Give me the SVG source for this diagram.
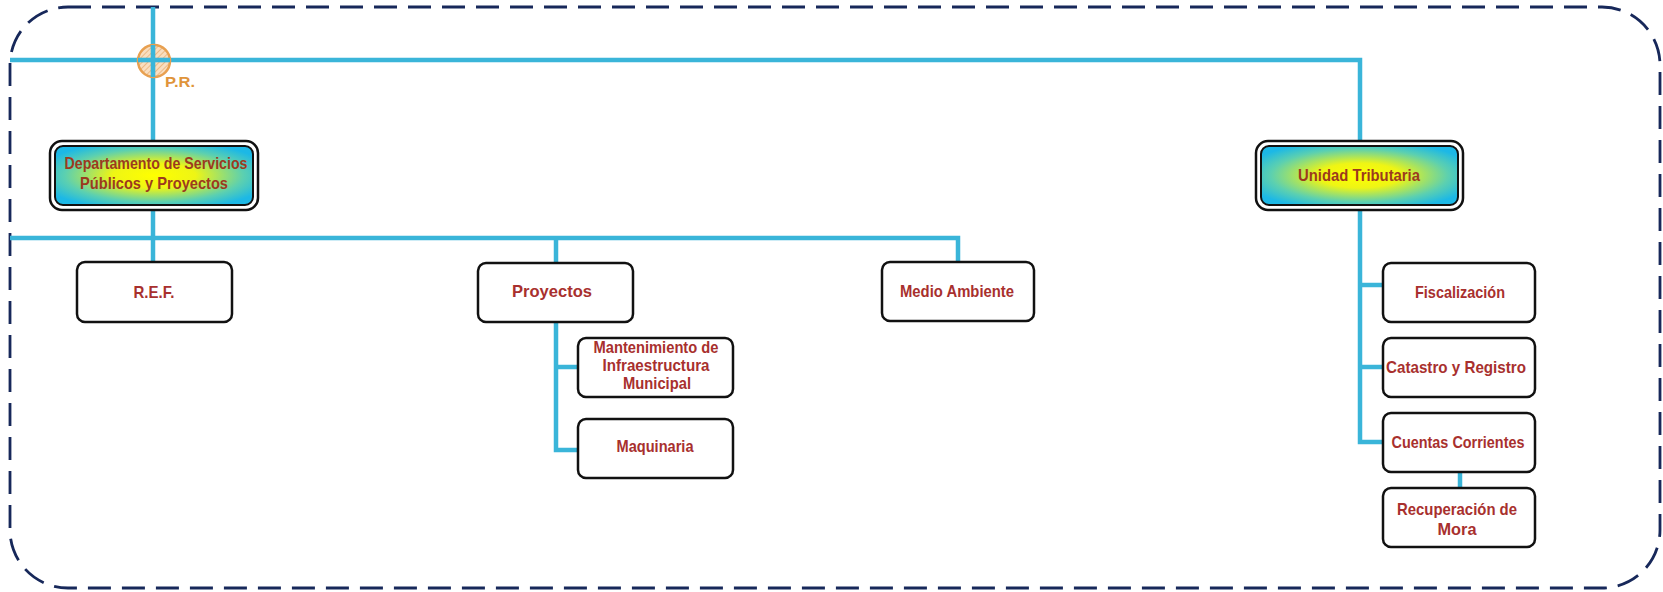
<svg xmlns="http://www.w3.org/2000/svg" width="1663" height="592" viewBox="0 0 1663 592">
<defs>
<radialGradient id="grad" cx="0.5" cy="0.5" r="0.6">
<stop offset="0" stop-color="#ffff00"/>
<stop offset="0.35" stop-color="#eef515"/>
<stop offset="0.75" stop-color="#5cd0b0"/>
<stop offset="1" stop-color="#1cb8e6"/>
</radialGradient>
<pattern id="hatch" width="4" height="4" patternUnits="userSpaceOnUse" patternTransform="rotate(45)">
<rect width="4" height="4" fill="#f7d6b0"/>
<line x1="0" y1="0" x2="0" y2="4" stroke="#e39a4e" stroke-width="1.5"/>
</pattern>
</defs>
<style>
.conn{fill:none;stroke:#3ab5d9;stroke-width:4.5;stroke-linecap:butt}
.box{fill:#fff;stroke:#111;stroke-width:2.5}
.outer{fill:#fff;stroke:#111;stroke-width:2.5}
.inner{fill:url(#grad);stroke:#111;stroke-width:2}
.t{font-family:"Liberation Sans Narrow","Liberation Sans",Arial,sans-serif;font-weight:bold;font-size:17px;fill:#a8302e;text-anchor:middle}
.tg{fill:#9c3a1e}
.border{fill:none;stroke:#17285a;stroke-width:2.8;stroke-dasharray:23 11}
</style>
<rect class="border" x="10" y="7" width="1650" height="581" rx="58" ry="58"/>
<g id="connectors">
<path class="conn" d="M153 7 V142"/>
<path class="conn" d="M10 60 H1360 V141"/>
<path class="conn" d="M153 210 V262"/>
<path class="conn" d="M10 238 H958 V262"/>
<path class="conn" d="M556 238 V263"/>
<path class="conn" d="M556 322 V450 H578"/>
<path class="conn" d="M556 367 H578"/>
<path class="conn" d="M1360 210 V442 H1383"/>
<path class="conn" d="M1360 285 H1383"/>
<path class="conn" d="M1360 367 H1383"/>
<path class="conn" d="M1460 472 V488"/>
</g>
<g id="pr">
<circle cx="154" cy="61" r="16" fill="url(#hatch)" fill-opacity="0.8" stroke="#e8a050" stroke-width="2.5"/>
<path class="conn" d="M138 60 H170 M153 45 V77" stroke-width="4"/>
<text x="165" y="87" textLength="30" lengthAdjust="spacingAndGlyphs" style="font-family:'Liberation Sans Narrow','Liberation Sans',Arial,sans-serif;font-weight:bold;font-size:14px;fill:#e0943a">P.R.</text>
</g>
<g id="dept">
<rect class="outer" x="50" y="141" width="208" height="69" rx="12"/>
<rect class="inner" x="55" y="146" width="198" height="59" rx="8"/>
<text class="t tg" x="156" y="169" textLength="183" lengthAdjust="spacingAndGlyphs">Departamento de Servicios</text>
<text class="t tg" x="154" y="189" textLength="148" lengthAdjust="spacingAndGlyphs">Públicos y Proyectos</text>
</g>
<g id="unidad">
<rect class="outer" x="1256" y="141" width="207" height="69" rx="12"/>
<rect class="inner" x="1261" y="146" width="197" height="59" rx="8"/>
<text class="t tg" x="1359" y="181" textLength="122" lengthAdjust="spacingAndGlyphs">Unidad Tributaria</text>
</g>
<g id="ref">
<rect class="box" x="77" y="262" width="155" height="60" rx="8"/>
<text class="t" x="154" y="298" textLength="41" lengthAdjust="spacingAndGlyphs">R.E.F.</text>
</g>
<g id="proyectos">
<rect class="box" x="478" y="263" width="155" height="59" rx="8"/>
<text class="t" x="552" y="297" textLength="80" lengthAdjust="spacingAndGlyphs">Proyectos</text>
</g>
<g id="mantenimiento">
<rect class="box" x="578" y="338" width="155" height="59" rx="8"/>
<text class="t" x="656" y="353" textLength="125" lengthAdjust="spacingAndGlyphs">Mantenimiento de</text>
<text class="t" x="656" y="371" textLength="107" lengthAdjust="spacingAndGlyphs">Infraestructura</text>
<text class="t" x="657" y="389" textLength="68" lengthAdjust="spacingAndGlyphs">Municipal</text>
</g>
<g id="maquinaria">
<rect class="box" x="578" y="419" width="155" height="59" rx="8"/>
<text class="t" x="655" y="452" textLength="77" lengthAdjust="spacingAndGlyphs">Maquinaria</text>
</g>
<g id="medio">
<rect class="box" x="882" y="262" width="152" height="59" rx="8"/>
<text class="t" x="957" y="297" textLength="114" lengthAdjust="spacingAndGlyphs">Medio Ambiente</text>
</g>
<g id="fiscalizacion">
<rect class="box" x="1383" y="263" width="152" height="59" rx="8"/>
<text class="t" x="1460" y="298" textLength="90" lengthAdjust="spacingAndGlyphs">Fiscalización</text>
</g>
<g id="catastro">
<rect class="box" x="1383" y="338" width="152" height="59" rx="8"/>
<text class="t" x="1456" y="373" textLength="140" lengthAdjust="spacingAndGlyphs">Catastro y Registro</text>
</g>
<g id="cuentas">
<rect class="box" x="1383" y="413" width="152" height="59" rx="8"/>
<text class="t" x="1458" y="448" textLength="133" lengthAdjust="spacingAndGlyphs">Cuentas Corrientes</text>
</g>
<g id="recuperacion">
<rect class="box" x="1383" y="488" width="152" height="59" rx="8"/>
<text class="t" x="1457" y="515" textLength="120" lengthAdjust="spacingAndGlyphs">Recuperación de</text>
<text class="t" x="1457" y="535" textLength="39" lengthAdjust="spacingAndGlyphs">Mora</text>
</g>
</svg>
